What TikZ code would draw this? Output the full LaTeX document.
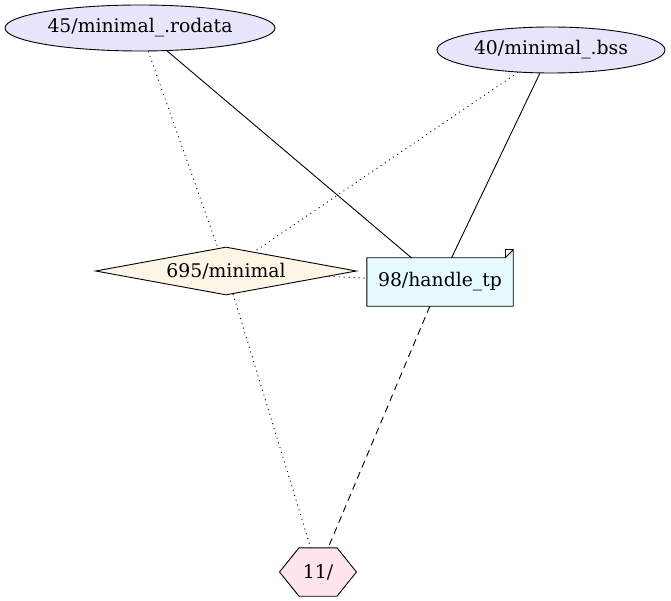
\documentclass[tikz,border=0pt]{standalone}
\usepackage{fontspec}
\setmainfont{DejaVu Serif}
\usetikzlibrary{shapes.geometric}
\definecolor{lav}{HTML}{E6E6FA}
\definecolor{olace}{HTML}{FDF5E6}
\definecolor{lcyan}{HTML}{E6FBFF}
\definecolor{lpink}{HTML}{FFE4EC}
\tikzset{
  ell/.style={ellipse, draw, fill=lav, inner sep=0pt, line width=0.9pt},
  dia/.style={diamond, draw, fill=olace, inner sep=0pt, aspect=5.4, minimum width=261pt, minimum height=48pt, line width=0.9pt},
  notebox/.style={rectangle, inner sep=0pt, minimum width=146pt, minimum height=48pt},
  hexbox/.style={rectangle, inner sep=0pt, minimum width=77pt, minimum height=48pt},
  lbl/.style={font=\fontsize{18.8pt}{21pt}\selectfont},
  edge/.style={line width=0.9pt},
  dotline/.style={edge, dash pattern=on 1pt off 4pt},
  dashline/.style={edge, dash pattern=on 7pt off 5pt},
}
\begin{document}
\begin{tikzpicture}[x=1pt,y=-1pt]
\useasboundingbox (0,0) rectangle (671,601);
\node[ell, lbl, minimum width=270pt, minimum height=46pt] (a) at (140,28) {45/minimal\_.rodata};
\node[ell, lbl, minimum width=228pt, minimum height=46pt] (b) at (551,50) {40/minimal\_.bss};
\node[dia, lbl] (c) at (226,271) {695/minimal};
\node[notebox] (d) at (440,282) {};
\filldraw[fill=lcyan, line width=0.9pt] (d.north west) -- ([xshift=-8pt]d.north east) -- ([yshift=8pt]d.north east) -- (d.south east) -- (d.south west) -- cycle;
\draw[line width=0.9pt] ([xshift=-8pt]d.north east) -- ([xshift=-8pt,yshift=8pt]d.north east) -- ([yshift=8pt]d.north east);
\node[lbl] at (d.center) {98/handle\_tp};
\node[hexbox] (e) at (318,572) {};
\filldraw[fill=lpink, line width=0.9pt] ([xshift=-38.5pt]e.center) -- ([xshift=-19pt]e.north) -- ([xshift=19pt]e.north) -- ([xshift=38.5pt]e.center) -- ([xshift=19pt]e.south) -- ([xshift=-19pt]e.south) -- cycle;
\node[lbl] at (e.center) {11/};
\draw[edge] (a) -- (d);
\draw[dotline] (a) -- (c);
\draw[dotline] (b) -- (c);
\draw[edge] (b) -- (d);
\draw[dotline] (c) -- (d);
\draw[dotline] (c) -- (e);
\draw[dashline] (d) -- (e);
\end{tikzpicture}
\end{document}
